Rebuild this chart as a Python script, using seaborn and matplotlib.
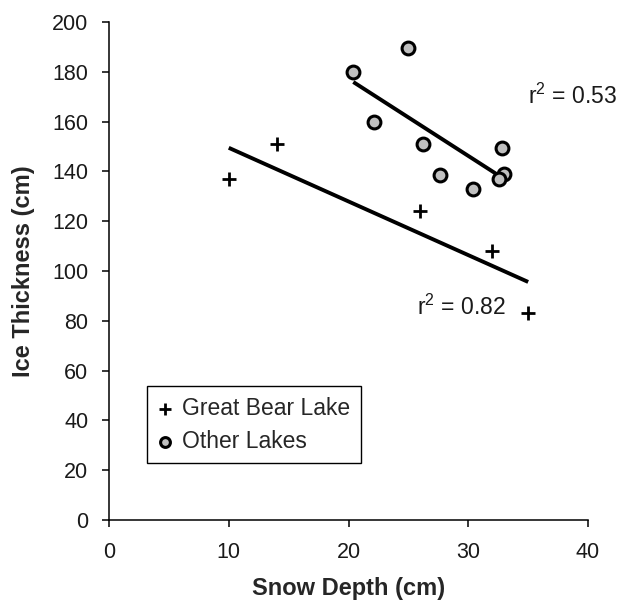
import matplotlib
matplotlib.use("Agg")
import matplotlib.pyplot as plt
import seaborn as sns
import pandas as pd

# ---- data ----
gbl_x = [10.0, 14.0, 26.0, 32.0, 35.0]
gbl_y = [137, 151, 124, 108, 83]
other_x = [20.4, 25.0, 22.1, 26.2, 27.6, 30.4, 32.8, 33.0, 32.6]
other_y = [180, 189.5, 160, 151, 138.5, 133, 149.5, 139, 137]
series_names = ["Great Bear Lake", "Other Lakes"]
r2_labels = ["r$^{2}$ = 0.82", "r$^{2}$ = 0.53"]
r2_pos_x = [25.7, 35.0]
r2_pos_y = [85.5, 170]
x_ticks = [0, 10, 20, 30, 40]
y_ticks = [0, 20, 40, 60, 80, 100, 120, 140, 160, 180, 200]

sns.set_style("ticks")
plt.rcParams["font.family"] = ["Liberation Sans", "DejaVu Sans"]
plt.rcParams["mathtext.fontset"] = "custom"
plt.rcParams["mathtext.rm"] = "Liberation Sans"
plt.rcParams["mathtext.it"] = "Liberation Sans"
plt.rcParams["mathtext.bf"] = "Liberation Sans:bold"

gbl = pd.DataFrame({"x": gbl_x, "y": gbl_y})
oth = pd.DataFrame({"x": other_x, "y": other_y})

fig = plt.figure(figsize=(6.18, 6.07), dpi=100)
ax = fig.add_axes([0.1764, 0.1433, 0.7751, 0.8205])

# regression lines
sns.regplot(data=gbl, x="x", y="y", scatter=False, ci=None, ax=ax,
            line_kws=dict(color="black", lw=2.8, solid_capstyle="butt"))
sns.regplot(data=oth, x="x", y="y", scatter=False, ci=None, ax=ax,
            line_kws=dict(color="black", lw=2.8, solid_capstyle="butt"))

# points
sns.scatterplot(data=gbl, x="x", y="y", marker="+", s=105, color="black",
                linewidth=2.0, ax=ax, label=series_names[0], zorder=3)
sns.scatterplot(data=oth, x="x", y="y", marker="o", s=85, color="#c0c0c0",
                edgecolor="black", linewidth=2.2, ax=ax, label=series_names[1], zorder=4)

for lbl, tx, ty in zip(r2_labels, r2_pos_x, r2_pos_y):
    ax.text(tx, ty, lbl, fontsize=16.5, color="#1a1a1a", va="center", ha="left")

ax.set_xlim(0, 40)
ax.set_ylim(0, 200)
ax.set_xticks(x_ticks)
ax.set_yticks(y_ticks)
ax.tick_params(axis="both", direction="out", length=5, width=1.1, color="black",
               labelsize=15.5, labelcolor="#1a1a1a")
ax.tick_params(axis="y", pad=10)
ax.tick_params(axis="x", pad=11)
for s in ["left", "bottom"]:
    ax.spines[s].set_color("black")
    ax.spines[s].set_linewidth(1.1)
sns.despine(ax=ax)
ax.set_xlabel("Snow Depth (cm)", fontsize=17, fontweight="bold", labelpad=10)
ax.set_ylabel("Ice Thickness (cm)", fontsize=17, fontweight="bold", labelpad=12)

leg = ax.legend(loc="lower left", bbox_to_anchor=(0.079, 0.114), fontsize=16.5,
                frameon=True, fancybox=False, edgecolor="black", framealpha=1,
                handlelength=0.7, handletextpad=0.4, borderpad=0.45,
                labelspacing=0.45, borderaxespad=0)
leg.get_frame().set_linewidth(1.0)
handles = leg.legend_handles
handles[0].set_sizes([70])
handles[1].set_sizes([50])

fig.savefig("out.png", dpi=100)
